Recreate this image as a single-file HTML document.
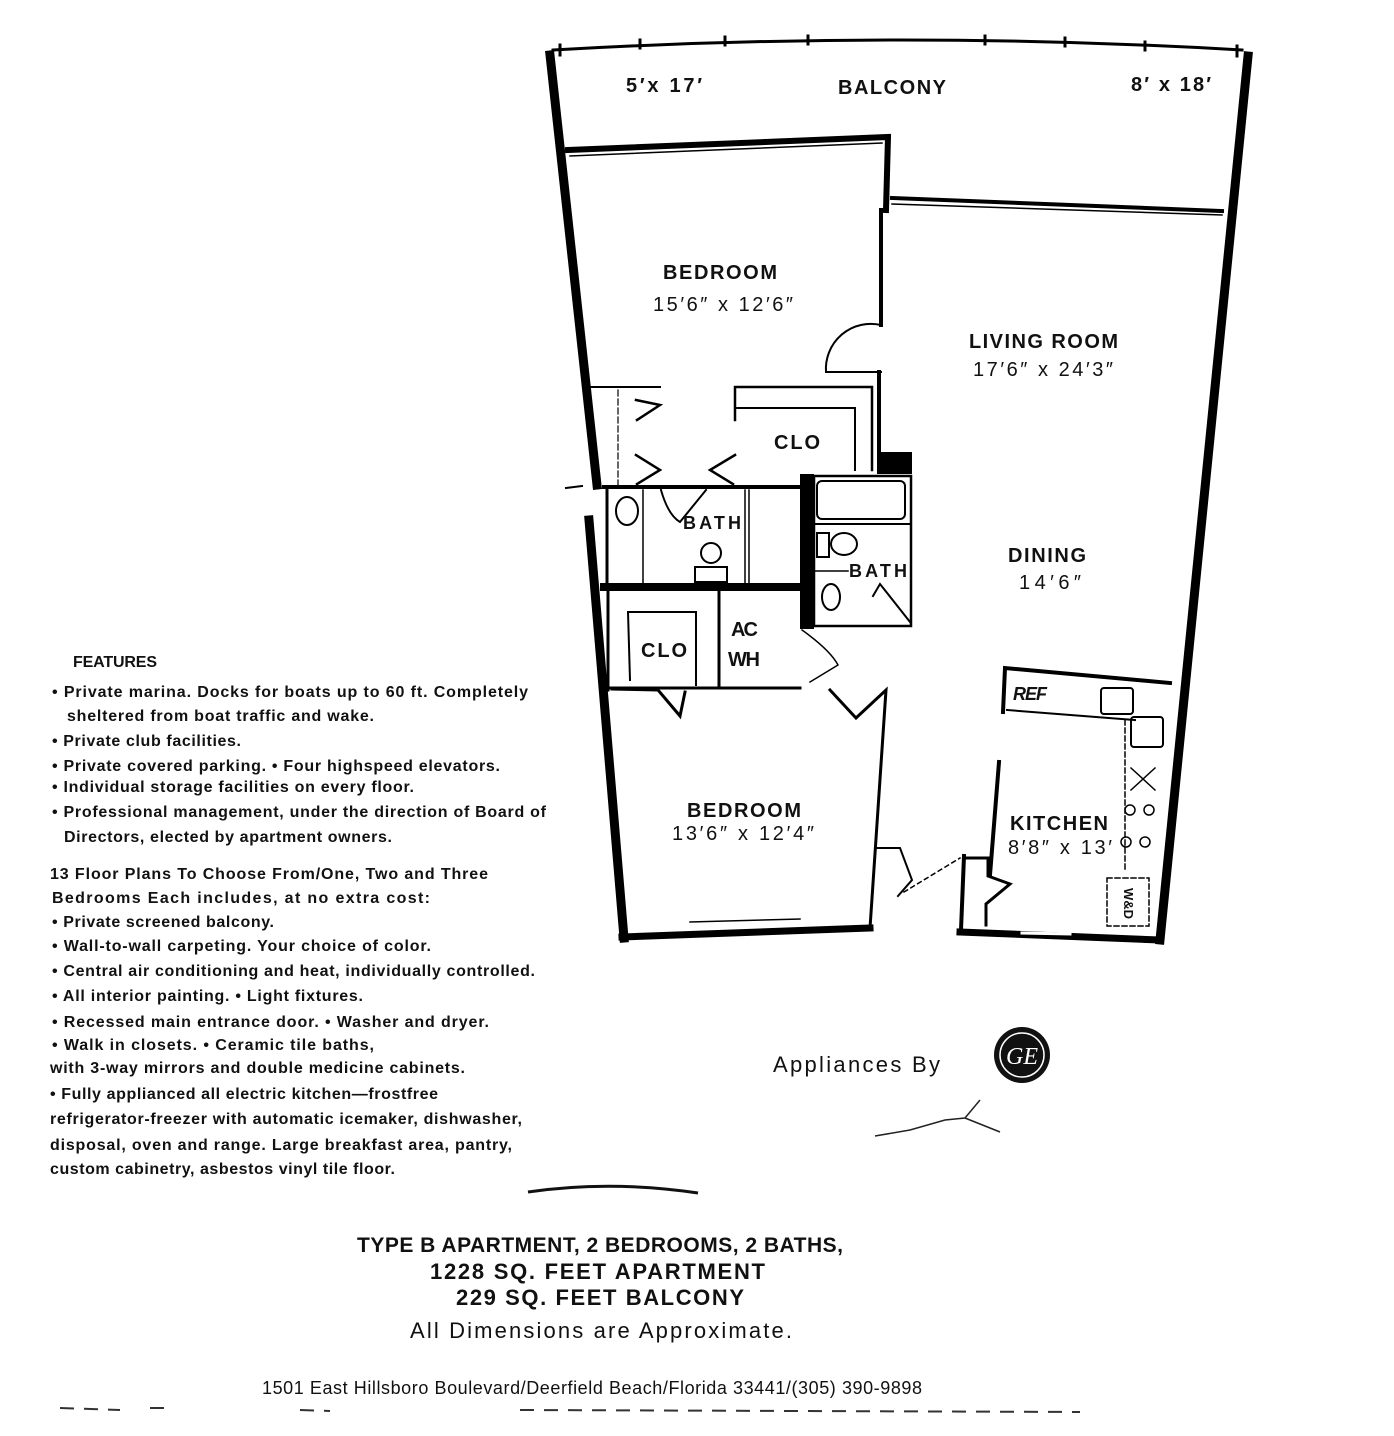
<!DOCTYPE html>
<html><head><meta charset="utf-8"><style>
html,body{margin:0;padding:0;background:#fff}
svg{display:block}
text{font-family:"Liberation Sans",sans-serif;fill:#111}
.f{font-size:16px;font-weight:bold}
.r{font-size:20px;font-weight:bold}
</style></head><body>
<svg width="1394" height="1436" viewBox="0 0 1394 1436" xmlns="http://www.w3.org/2000/svg">
<rect width="1394" height="1436" fill="#fff"/>
<g stroke="#000" fill="none" stroke-linecap="square">
<!-- balcony arc -->
<path d="M553 50 Q900 30 1242 50" stroke-width="3"/>
<g stroke-width="3"><line x1="560" y1="45" x2="560" y2="55"/><line x1="640" y1="40" x2="640" y2="48"/><line x1="725" y1="37" x2="725" y2="45"/><line x1="808" y1="36" x2="808" y2="44"/><line x1="985" y1="36" x2="985" y2="44"/><line x1="1065" y1="38" x2="1065" y2="46"/><line x1="1145" y1="42" x2="1145" y2="50"/><line x1="1237" y1="46" x2="1237" y2="56"/></g>
<!-- outer thick walls -->
<line x1="550" y1="55" x2="597" y2="485" stroke-width="9"/>
<line x1="589" y1="520" x2="624" y2="938" stroke-width="9"/>
<line x1="1248" y1="56" x2="1160" y2="940" stroke-width="9"/>
<!-- balcony/bedroom wall -->
<polyline points="568,150 888,137 886,210" stroke-width="6"/>
<line x1="892" y1="198" x2="1222" y2="211" stroke-width="4"/>
<line x1="892" y1="204" x2="1222" y2="215" stroke-width="1.5"/>
<line x1="570" y1="156" x2="882" y2="143" stroke-width="1.5"/>
<!-- bedroom/living wall -->
<line x1="881" y1="210" x2="881" y2="325" stroke-width="4"/>
<path d="M881 325 A45 45 0 0 0 826 372 L881 372" stroke-width="2"/>
<line x1="879" y1="372" x2="879" y2="472" stroke-width="4"/>
<rect x="878" y="452" width="34" height="22" fill="#000" stroke="none"/>
<!-- closet area -->
<polyline points="586,387 660,387" stroke-width="2"/>
<polyline points="618,390 618,486" stroke-width="1.2" stroke-dasharray="6 3"/>
<polyline points="636,400 660,405 637,420" stroke-width="2.5"/>
<polyline points="636,455 660,470 637,484" stroke-width="2.5"/>
<polyline points="735,455 710,470 733,484" stroke-width="2.5"/>
<polyline points="735,420 735,387 872,387 872,470" stroke-width="2.5"/>
<polyline points="737,408 855,408 855,470" stroke-width="2"/>
<!-- bath 1 -->
<line x1="604" y1="487" x2="800" y2="487" stroke-width="4"/>
<line x1="607" y1="490" x2="607" y2="585" stroke-width="3"/>
<line x1="643" y1="490" x2="643" y2="585" stroke-width="1.5"/>
<line x1="745" y1="490" x2="745" y2="585" stroke-width="1.5"/>
<line x1="749" y1="490" x2="749" y2="585" stroke-width="1.5"/>
<ellipse cx="627" cy="511" rx="11" ry="14" stroke-width="2"/>
<circle cx="711" cy="553" r="10" stroke-width="2"/>
<rect x="695" y="567" width="32" height="15" stroke-width="2"/>
<path d="M661 490 Q668 515 680 522 L706 490" stroke-width="2"/>
<line x1="604" y1="587" x2="800" y2="587" stroke-width="8"/>
<!-- bath 2 -->
<rect x="800" y="474" width="14" height="155" fill="#000" stroke="none"/>
<rect x="814" y="476" width="97" height="150" stroke-width="2.5"/>
<rect x="817" y="481" width="88" height="38" rx="5" stroke-width="2"/>
<line x1="814" y1="524" x2="911" y2="524" stroke-width="2"/>
<ellipse cx="844" cy="544" rx="13" ry="11" stroke-width="2"/>
<rect x="817" y="533" width="12" height="24" stroke-width="2"/>
<ellipse cx="831" cy="597" rx="9" ry="13" stroke-width="2"/>
<line x1="814" y1="571" x2="848" y2="571" stroke-width="1.5"/>
<polyline points="873,596 880,584 910,622" stroke-width="2"/>
<!-- lower closets -->
<line x1="608" y1="590" x2="608" y2="690" stroke-width="3"/>
<line x1="719" y1="590" x2="719" y2="688" stroke-width="3"/>
<polyline points="630,680 628,612 696,612 696,685" stroke-width="2"/>
<line x1="608" y1="688" x2="800" y2="688" stroke-width="3"/>
<path d="M802 630 Q830 650 838 665 L810 682" stroke-width="1.5"/>
<!-- bedroom 2 -->
<polyline points="612,689 658,690 680,716 685,692" stroke-width="3"/>
<polyline points="830,690 856,718 886,690 870,928" stroke-width="3"/>
<line x1="622" y1="937" x2="870" y2="928" stroke-width="7"/>
<line x1="690" y1="922" x2="800" y2="919" stroke-width="1.5"/>
<!-- entry/kitchen -->
<polyline points="875,848 900,848 912,880 898,896" stroke-width="2"/>
<line x1="904" y1="892" x2="960" y2="858" stroke-width="1.5" stroke-dasharray="4 4"/>
<polyline points="966,858 988,858 988,876 1010,884 986,904 986,925" stroke-width="3"/>
<line x1="964" y1="856" x2="961" y2="930" stroke-width="4"/>
<line x1="999" y1="762" x2="990" y2="875" stroke-width="4"/>
<line x1="960" y1="932" x2="1160" y2="940" stroke-width="7"/>
<line x1="1022" y1="933" x2="1070" y2="934" stroke="#fff" stroke-width="3"/>
<polyline points="1003,712 1005,668 1170,683" stroke-width="4"/>
<line x1="1007" y1="710" x2="1135" y2="720" stroke-width="2"/>
<rect x="1101" y="688" width="32" height="26" rx="3" stroke-width="2"/>
<rect x="1131" y="717" width="32" height="30" rx="3" stroke-width="2"/>
<polyline points="1125,720 1125,870" stroke-width="1.5" stroke-dasharray="5 3"/>
<circle cx="1130" cy="810" r="5" stroke-width="1.5"/><circle cx="1149" cy="810" r="5" stroke-width="1.5"/>
<circle cx="1126" cy="842" r="5" stroke-width="1.5"/><circle cx="1145" cy="842" r="5" stroke-width="1.5"/>
<path d="M1131 768 L1155 790 M1155 768 L1131 790" stroke-width="1.5"/>
<rect x="1107" y="878" width="42" height="48" stroke-width="1.5" stroke-dasharray="5 3"/>
<line x1="566" y1="488" x2="582" y2="486" stroke-width="2"/>
</g>
<!-- room labels -->
<text x="626" y="92" class="r" textLength="76">5′x 17′</text>
<text x="838" y="94" class="r" textLength="108">BALCONY</text>
<text x="1131" y="91" class="r" textLength="80">8′ x 18′</text>
<text x="663" y="279" class="r" textLength="114">BEDROOM</text>
<text x="653" y="311" class="r" textLength="140" style="font-weight:normal">15′6″ x 12′6″</text>
<text x="969" y="348" class="r" textLength="149">LIVING ROOM</text>
<text x="973" y="376" class="r" textLength="140" style="font-weight:normal">17′6″ x 24′3″</text>
<text x="774" y="449" class="r" textLength="46">CLO</text>
<text x="683" y="529" class="f" style="font-size:18px" textLength="58">BATH</text>
<text x="849" y="577" class="f" style="font-size:18px" textLength="58">BATH</text>
<text x="1008" y="562" class="r" textLength="78">DINING</text>
<text x="1019" y="589" class="r" textLength="62" style="font-weight:normal">14′6″</text>
<text x="641" y="657" class="r" textLength="46">CLO</text>
<text x="731" y="636" class="r" textLength="27">AC</text>
<text x="728" y="666" class="r" textLength="32">WH</text>
<text x="1013" y="700" class="f" style="font-size:18px;font-style:italic" textLength="34">REF</text>
<text x="687" y="817" class="r" textLength="114">BEDROOM</text>
<text x="672" y="840" class="r" textLength="142" style="font-weight:normal">13′6″ x 12′4″</text>
<text x="1010" y="830" class="r" textLength="98">KITCHEN</text>
<text x="1008" y="854" class="r" textLength="104" style="font-weight:normal">8′8″ x 13′</text>
<text x="0" y="0" transform="translate(1124,888) rotate(90)" style="font-size:13px;font-weight:bold">W&amp;D</text>
<!-- features -->
<g class="f">
<text x="73" y="667" class="f" textLength="84">FEATURES</text>
<text x="52" y="697" class="f" textLength="476">• Private marina. Docks for boats up to 60 ft. Completely</text>
<text x="67" y="721" class="f" textLength="307">sheltered from boat traffic and wake.</text>
<text x="52" y="746" class="f" textLength="189">• Private club facilities.</text>
<text x="52" y="771" class="f" textLength="448">• Private covered parking. • Four highspeed elevators.</text>
<text x="52" y="792" class="f" textLength="362">• Individual storage facilities on every floor.</text>
<text x="52" y="817" class="f" textLength="494">• Professional management, under the direction of Board of</text>
<text x="64" y="842" class="f" textLength="328">Directors, elected by apartment owners.</text>
<text x="50" y="879" class="f" textLength="438">13 Floor Plans To Choose From/One, Two and Three</text>
<text x="52" y="903" class="f" textLength="378">Bedrooms  Each includes, at no extra cost:</text>
<text x="52" y="927" class="f" textLength="222">• Private screened balcony.</text>
<text x="52" y="951" class="f" textLength="379">• Wall-to-wall carpeting. Your choice of color.</text>
<text x="52" y="976" class="f" textLength="483">• Central air conditioning and heat, individually controlled.</text>
<text x="52" y="1001" class="f" textLength="311">• All interior painting. • Light fixtures.</text>
<text x="52" y="1027" class="f" textLength="437">• Recessed main entrance door. • Washer and dryer.</text>
<text x="52" y="1050" class="f" textLength="322">• Walk in closets.  • Ceramic tile baths,</text>
<text x="50" y="1073" class="f" textLength="415">with 3-way mirrors and double medicine  cabinets.</text>
<text x="50" y="1099" class="f" textLength="388">• Fully applianced all electric kitchen—frostfree</text>
<text x="50" y="1124" class="f" textLength="472">refrigerator-freezer with automatic icemaker, dishwasher,</text>
<text x="50" y="1150" class="f" textLength="462">disposal, oven and range. Large breakfast area, pantry,</text>
<text x="50" y="1174" class="f" textLength="345">custom cabinetry, asbestos vinyl tile floor.</text>
</g>
<text x="773" y="1072" style="font-size:22px" textLength="167">Appliances By</text>
<circle cx="1022" cy="1055" r="28" fill="#111"/>
<circle cx="1022" cy="1055" r="22" fill="none" stroke="#fff" stroke-width="1.5"/>
<text x="1022" y="1064" text-anchor="middle" style="font-size:24px;font-style:italic;fill:#fff;font-family:'Liberation Serif',serif">GE</text>
<path d="M875 1136 L910 1130 L945 1120 L965 1118 L980 1100 M965 1118 L1000 1132" stroke="#222" stroke-width="1.5" fill="none"/>
<path d="M528 1192 Q610 1180 698 1193" stroke="#111" stroke-width="3" fill="none"/>
<text x="357" y="1252" style="font-size:21px;font-weight:bold" textLength="486">TYPE B APARTMENT, 2 BEDROOMS, 2 BATHS,</text>
<text x="430" y="1279" style="font-size:22px;font-weight:bold" textLength="335">1228  SQ. FEET APARTMENT</text>
<text x="456" y="1305" style="font-size:22px;font-weight:bold" textLength="288">229  SQ. FEET BALCONY</text>
<text x="410" y="1338" style="font-size:22px" textLength="382">All Dimensions are Approximate.</text>
<text x="262" y="1394" style="font-size:18px" textLength="660">1501 East Hillsboro Boulevard/Deerfield Beach/Florida 33441/(305) 390-9898</text>
<path d="M60 1408 L120 1410 M150 1408 L170 1408 M300 1410 L330 1411 M520 1410 L1080 1412" stroke="#333" stroke-width="2" stroke-dasharray="14 10" fill="none"/>
</svg>
</body></html>
